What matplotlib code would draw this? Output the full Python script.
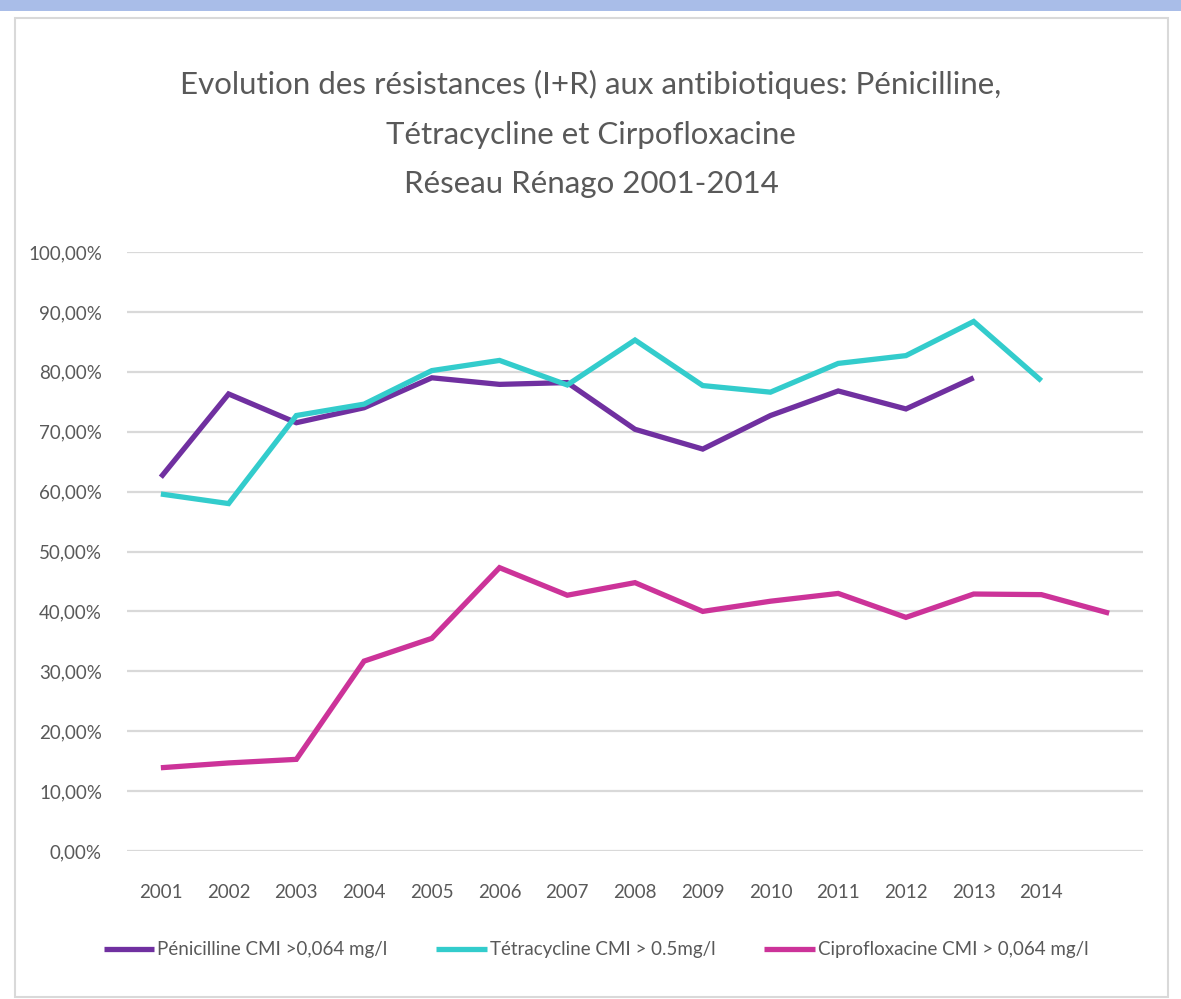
import matplotlib.pyplot as plt
from matplotlib.patches import Rectangle
from matplotlib.ticker import FuncFormatter, MultipleLocator

# Taux de résistance (I+R) en %, Réseau Rénago
annees = ["2001", "2002", "2003", "2004", "2005", "2006", "2007", "2008",
          "2009", "2010", "2011", "2012", "2013", "2014", ""]
penicilline = [62.4, 76.3, 71.5, 74.0, 79.0, 77.9, 78.2, 70.4, 67.1, 72.7, 76.8, 73.8, 79.0]
tetracycline = [59.6, 58.0, 72.7, 74.6, 80.2, 81.9, 77.8, 85.3, 77.7, 76.6, 81.4, 82.7, 88.4, 78.5]
ciprofloxacine = [13.9, 14.7, 15.3, 31.7, 35.5, 47.3, 42.7, 44.8, 40.0, 41.7, 43.0, 39.0, 42.9, 42.8, 39.7]

series = [
    ("Pénicilline CMI >0,064 mg/l", penicilline, "#7030A0"),
    ("Tétracycline CMI > 0.5mg/l", tetracycline, "#33CCCC"),
    ("Ciprofloxacine CMI > 0,064 mg/l", ciprofloxacine, "#CC3399"),
]

plt.rcParams["font.family"] = ["Lato", "DejaVu Sans"]
GRIS = "#595959"

W, H = 1181, 999
fig = plt.figure(figsize=(W / 100, H / 100), dpi=100)

# bandeau bleu en haut et cadre du graphique
fig.patches.append(Rectangle((0, 1 - 11 / H), 1, 11 / H, transform=fig.transFigure,
                             fc="#a9bde8", ec="none", zorder=-1))
fig.patches.append(Rectangle((15 / W, 2 / H), 1153 / W, 979 / H, transform=fig.transFigure,
                             fc="none", ec="#d9d9d9", lw=1.5, zorder=-1))

ax = fig.add_axes([127 / W, 148 / H, 1016 / W, 599 / H])
ax.set_facecolor("none")

x = list(range(len(annees)))
for nom, vals, couleur in series:
    ax.plot(x[:len(vals)], vals, color=couleur, lw=3.8, label=nom,
            solid_joinstyle="miter", solid_capstyle="butt")

ax.set_xlim(-0.5, len(annees) - 0.5)
ax.set_ylim(0, 100)
ax.set_xticks(x)
ax.set_xticklabels(annees)
ax.yaxis.set_major_locator(MultipleLocator(10))
ax.yaxis.set_major_formatter(FuncFormatter(lambda v, p: f"{v:.2f}".replace(".", ",") + "%"))
ax.grid(axis="y", color="#d9d9d9", lw=1.6)
ax.set_axisbelow(True)
for s in ax.spines.values():
    s.set_visible(False)
ax.tick_params(length=0, labelsize=13.5, labelcolor=GRIS)
ax.tick_params(axis="x", pad=24)
ax.tick_params(axis="y", pad=18)

fig.text(591 / W, 1 - 134 / H,
         "Evolution des résistances (I+R) aux antibiotiques: Pénicilline,\n"
         "Tétracycline et Cirpofloxacine\nRéseau Rénago 2001-2014",
         ha="center", va="center", fontsize=22.5, color=GRIS, linespacing=1.95)

fig.legend(loc="center", bbox_to_anchor=(596 / W, 1 - 950 / H), ncol=3, frameon=False,
           fontsize=13.5, labelcolor=GRIS, handlelength=2.7, handletextpad=0.15,
           columnspacing=2.6)

fig.savefig("out.png", dpi=100)
